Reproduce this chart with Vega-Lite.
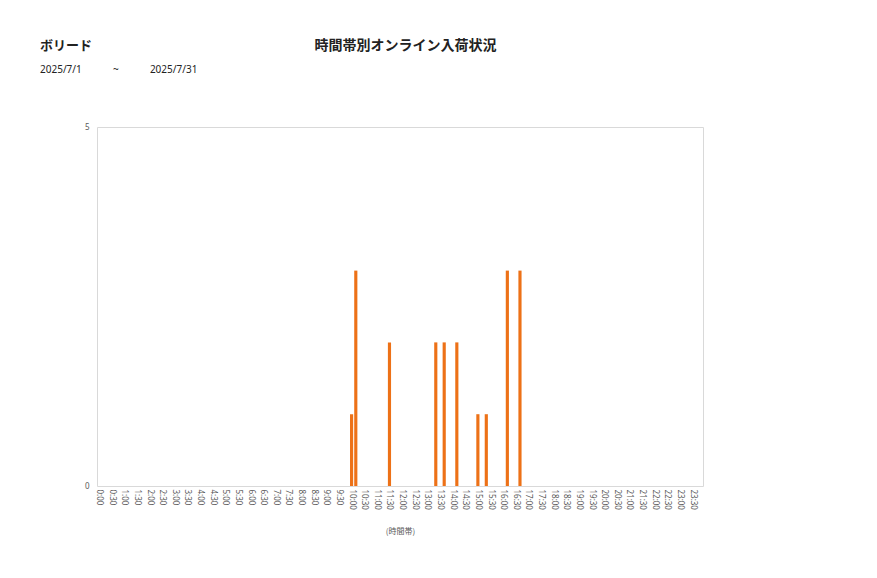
{
  "$schema": "https://vega.github.io/schema/vega-lite/v6.json",
  "description": "時間帯別オンライン入荷状況 (10分刻み, 2025/7/1〜7/31)",
  "width": 606,
  "height": 359,
  "autosize": "none",
  "padding": {"left": 97, "top": 127, "right": 174, "bottom": 92},
  "background": "white",
  "title": {
    "text": "ボリード",
    "subtitle": "2025/7/1\u00a0\u00a0\u00a0\u00a0\u00a0\u00a0\u00a0\u00a0\u00a0\u00a0\u00a0\u00a0~\u00a0\u00a0\u00a0\u00a0\u00a0\u00a0\u00a0\u00a0\u00a0\u00a0\u00a0\u00a02025/7/31",
    "anchor": "start",
    "frame": "group",
    "dx": -57,
    "offset": -37,
    "font": "Noto Sans CJK JP",
    "fontSize": 13,
    "fontWeight": "bold",
    "color": "#222222",
    "subtitleFont": "Noto Sans",
    "subtitleFontSize": 10,
    "subtitleColor": "#222222",
    "subtitlePadding": 12
  },
  "data": {
    "values": [
      {"time": "0:00", "count": 0}, {"time": "0:10", "count": 0}, {"time": "0:20", "count": 0},
      {"time": "0:30", "count": 0}, {"time": "0:40", "count": 0}, {"time": "0:50", "count": 0},
      {"time": "1:00", "count": 0}, {"time": "1:10", "count": 0}, {"time": "1:20", "count": 0},
      {"time": "1:30", "count": 0}, {"time": "1:40", "count": 0}, {"time": "1:50", "count": 0},
      {"time": "2:00", "count": 0}, {"time": "2:10", "count": 0}, {"time": "2:20", "count": 0},
      {"time": "2:30", "count": 0}, {"time": "2:40", "count": 0}, {"time": "2:50", "count": 0},
      {"time": "3:00", "count": 0}, {"time": "3:10", "count": 0}, {"time": "3:20", "count": 0},
      {"time": "3:30", "count": 0}, {"time": "3:40", "count": 0}, {"time": "3:50", "count": 0},
      {"time": "4:00", "count": 0}, {"time": "4:10", "count": 0}, {"time": "4:20", "count": 0},
      {"time": "4:30", "count": 0}, {"time": "4:40", "count": 0}, {"time": "4:50", "count": 0},
      {"time": "5:00", "count": 0}, {"time": "5:10", "count": 0}, {"time": "5:20", "count": 0},
      {"time": "5:30", "count": 0}, {"time": "5:40", "count": 0}, {"time": "5:50", "count": 0},
      {"time": "6:00", "count": 0}, {"time": "6:10", "count": 0}, {"time": "6:20", "count": 0},
      {"time": "6:30", "count": 0}, {"time": "6:40", "count": 0}, {"time": "6:50", "count": 0},
      {"time": "7:00", "count": 0}, {"time": "7:10", "count": 0}, {"time": "7:20", "count": 0},
      {"time": "7:30", "count": 0}, {"time": "7:40", "count": 0}, {"time": "7:50", "count": 0},
      {"time": "8:00", "count": 0}, {"time": "8:10", "count": 0}, {"time": "8:20", "count": 0},
      {"time": "8:30", "count": 0}, {"time": "8:40", "count": 0}, {"time": "8:50", "count": 0},
      {"time": "9:00", "count": 0}, {"time": "9:10", "count": 0}, {"time": "9:20", "count": 0},
      {"time": "9:30", "count": 0}, {"time": "9:40", "count": 0}, {"time": "9:50", "count": 0},
      {"time": "10:00", "count": 1}, {"time": "10:10", "count": 3}, {"time": "10:20", "count": 0},
      {"time": "10:30", "count": 0}, {"time": "10:40", "count": 0}, {"time": "10:50", "count": 0},
      {"time": "11:00", "count": 0}, {"time": "11:10", "count": 0}, {"time": "11:20", "count": 0},
      {"time": "11:30", "count": 2}, {"time": "11:40", "count": 0}, {"time": "11:50", "count": 0},
      {"time": "12:00", "count": 0}, {"time": "12:10", "count": 0}, {"time": "12:20", "count": 0},
      {"time": "12:30", "count": 0}, {"time": "12:40", "count": 0}, {"time": "12:50", "count": 0},
      {"time": "13:00", "count": 0}, {"time": "13:10", "count": 0}, {"time": "13:20", "count": 2},
      {"time": "13:30", "count": 0}, {"time": "13:40", "count": 2}, {"time": "13:50", "count": 0},
      {"time": "14:00", "count": 0}, {"time": "14:10", "count": 2}, {"time": "14:20", "count": 0},
      {"time": "14:30", "count": 0}, {"time": "14:40", "count": 0}, {"time": "14:50", "count": 0},
      {"time": "15:00", "count": 1}, {"time": "15:10", "count": 0}, {"time": "15:20", "count": 1},
      {"time": "15:30", "count": 0}, {"time": "15:40", "count": 0}, {"time": "15:50", "count": 0},
      {"time": "16:00", "count": 0}, {"time": "16:10", "count": 3}, {"time": "16:20", "count": 0},
      {"time": "16:30", "count": 0}, {"time": "16:40", "count": 3}, {"time": "16:50", "count": 0},
      {"time": "17:00", "count": 0}, {"time": "17:10", "count": 0}, {"time": "17:20", "count": 0},
      {"time": "17:30", "count": 0}, {"time": "17:40", "count": 0}, {"time": "17:50", "count": 0},
      {"time": "18:00", "count": 0}, {"time": "18:10", "count": 0}, {"time": "18:20", "count": 0},
      {"time": "18:30", "count": 0}, {"time": "18:40", "count": 0}, {"time": "18:50", "count": 0},
      {"time": "19:00", "count": 0}, {"time": "19:10", "count": 0}, {"time": "19:20", "count": 0},
      {"time": "19:30", "count": 0}, {"time": "19:40", "count": 0}, {"time": "19:50", "count": 0},
      {"time": "20:00", "count": 0}, {"time": "20:10", "count": 0}, {"time": "20:20", "count": 0},
      {"time": "20:30", "count": 0}, {"time": "20:40", "count": 0}, {"time": "20:50", "count": 0},
      {"time": "21:00", "count": 0}, {"time": "21:10", "count": 0}, {"time": "21:20", "count": 0},
      {"time": "21:30", "count": 0}, {"time": "21:40", "count": 0}, {"time": "21:50", "count": 0},
      {"time": "22:00", "count": 0}, {"time": "22:10", "count": 0}, {"time": "22:20", "count": 0},
      {"time": "22:30", "count": 0}, {"time": "22:40", "count": 0}, {"time": "22:50", "count": 0},
      {"time": "23:00", "count": 0}, {"time": "23:10", "count": 0}, {"time": "23:20", "count": 0},
      {"time": "23:30", "count": 0}, {"time": "23:40", "count": 0}, {"time": "23:50", "count": 0}
    ]
  },
  "mark": {"type": "bar", "color": "#ED7117"},
  "encoding": {
    "x": {
      "field": "time",
      "type": "ordinal",
      "sort": null,
      "scale": {"paddingInner": 0.25, "paddingOuter": 0.1},
      "axis": {
        "values": [
          "0:00", "0:30", "1:00", "1:30", "2:00", "2:30", "3:00", "3:30",
          "4:00", "4:30", "5:00", "5:30", "6:00", "6:30", "7:00", "7:30",
          "8:00", "8:30", "9:00", "9:30", "10:00", "10:30", "11:00", "11:30",
          "12:00", "12:30", "13:00", "13:30", "14:00", "14:30", "15:00", "15:30",
          "16:00", "16:30", "17:00", "17:30", "18:00", "18:30", "19:00", "19:30",
          "20:00", "20:30", "21:00", "21:30", "22:00", "22:30", "23:00", "23:30"
        ],
        "title": "(時間帯)",
        "titleFont": "Noto Sans CJK JP",
        "titleFontSize": 8,
        "titleFontWeight": "normal",
        "titleColor": "#595959",
        "titlePadding": 18,
        "labelAngle": 90,
        "labelFont": "Noto Sans",
        "labelFontSize": 8,
        "labelColor": "#595959",
        "labelPadding": 3,
        "labelOverlap": false,
        "ticks": false,
        "domain": false,
        "grid": false
      }
    },
    "y": {
      "field": "count",
      "type": "quantitative",
      "scale": {"domain": [0, 5], "nice": false},
      "axis": {
        "values": [0, 5],
        "title": "時間帯別オンライン入荷状況",
        "titleAngle": 0,
        "titleX": 308,
        "titleY": -78,
        "titleAlign": "center",
        "titleBaseline": "alphabetic",
        "titleFont": "Noto Sans CJK JP",
        "titleFontSize": 14,
        "titleFontWeight": "bold",
        "titleColor": "#222222",
        "labelFont": "Noto Sans",
        "labelFontSize": 8,
        "labelColor": "#595959",
        "labelPadding": 8,
        "ticks": false,
        "domain": false,
        "grid": false
      }
    }
  },
  "config": {
    "view": {"stroke": "#D9D9D9", "strokeWidth": 1}
  }
}
